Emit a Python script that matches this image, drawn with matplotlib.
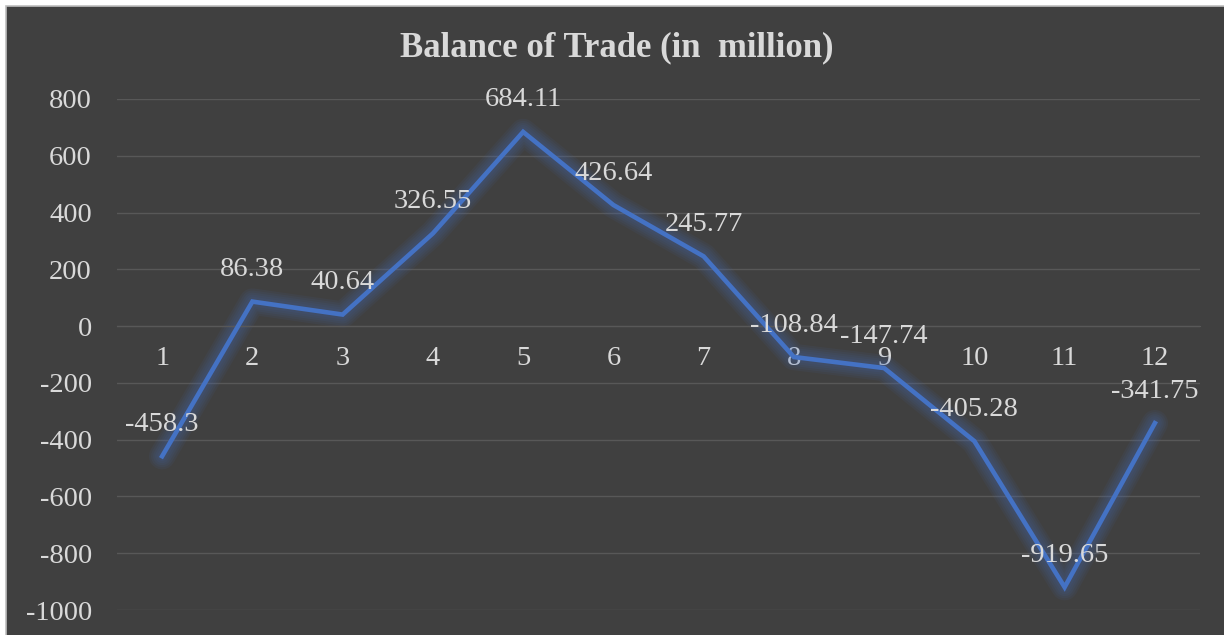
import matplotlib.pyplot as plt
from matplotlib.patches import Rectangle

# Balance of trade per month (in million)
months = [1, 2, 3, 4, 5, 6, 7, 8, 9, 10, 11, 12]
balance = [-458.3, 86.38, 40.64, 326.55, 684.11, 426.64, 245.77, -108.84, -147.74, -405.28, -919.65, -341.75]
y_ticks = [-1000, -800, -600, -400, -200, 0, 200, 400, 600, 800]

bg = '#404040'
txt = '#d9d9d9'
blue = '#4472C4'

plt.rcParams['font.family'] = ['Liberation Serif', 'DejaVu Serif']
plt.rcParams['axes.unicode_minus'] = False

fig = plt.figure(figsize=(12.24, 6.35), dpi=100, facecolor='white')
fig.patches.append(Rectangle((6 / 1224, -0.01), 1.0, 1 - 6 / 635 + 0.01, transform=fig.transFigure,
                             facecolor=bg, edgecolor='#bfbfbf', linewidth=1.2, zorder=-5))

ax = fig.add_axes([117 / 1224, 1 - 610 / 635, (1200 - 117) / 1224, (610 - 99) / 635])
ax.set_facecolor('none')
ax.set_zorder(2)

# glow around the line
for w in [19, 16, 13, 10, 7]:
    ax.plot(months, balance, color=blue, linewidth=w, alpha=0.07, solid_capstyle='round',
            solid_joinstyle='round', zorder=2)
ax.plot(months, balance, color=blue, linewidth=3.3, solid_joinstyle='miter', zorder=3)

for m, v in zip(months, balance):
    ax.annotate(f'{v:g}', (m, v), xytext=(0, 23), textcoords='offset points',
                ha='center', va='center', fontsize=20.5, color=txt, zorder=4)

ax.set_xlim(0.5, 12.5)
ax.set_ylim(-1000, 800)
ax.set_yticks(y_ticks)
ax.set_xticks(months)
ax.yaxis.grid(True, color='#585858', linewidth=1)
ax.set_axisbelow(True)
for s in ['top', 'right', 'left']:
    ax.spines[s].set_visible(False)
ax.spines['bottom'].set_position(('data', 0))
ax.spines['bottom'].set_color('#585858')
ax.tick_params(axis='both', length=0, labelsize=20.5, labelcolor=txt)
ax.tick_params(axis='y', pad=18)
ax.tick_params(axis='x', pad=14)

fig.text(617 / 1224, 1 - 48 / 635, 'Balance of Trade (in  million)', ha='center', va='center',
         fontsize=25, fontweight='bold', color=txt)

fig.savefig('out.png', dpi=100, facecolor=fig.get_facecolor())
